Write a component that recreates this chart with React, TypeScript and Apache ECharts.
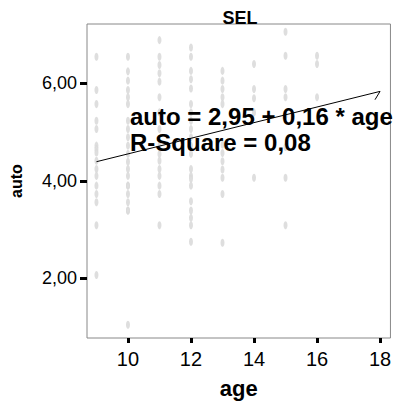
import React, { useEffect, useRef } from "react";
import * as echarts from "echarts";

const titleText = "SEL";
const xName = "age";
const yName = "auto";
const xTicks = [10, 12, 14, 16, 18];
const yTicks = [2, 4, 6];

const age9 = [6.54, 5.86, 5.57, 5.23, 5.06, 4.72, 4.65, 4.58, 4.41, 4.24, 4.1, 3.9, 3.73, 3.56, 3.09, 2.07];
const age10 = [6.54, 6.24, 6.05, 5.86, 5.71, 5.57, 5.23, 5.06, 4.89, 4.72, 4.55, 4.39, 4.24, 4.1, 3.9, 3.9, 3.73, 3.56, 3.39, 3.39, 1.05];
const age11 = [6.88, 6.54, 6.37, 6.2, 6.03, 5.71, 5.4, 5.06, 4.72, 4.55, 4.41, 4.24, 4.1, 3.9, 3.73, 3.09];
const age12 = [6.73, 6.54, 6.25, 6.08, 5.89, 5.57, 5.4, 5.23, 5.06, 4.89, 4.72, 4.55, 4.24, 4.1, 4.04, 3.9, 3.58, 3.39, 3.24, 3.09, 2.75];
const age13 = [6.25, 6.05, 5.88, 5.71, 5.57, 4.74, 4.57, 4.4, 4.23, 4.06, 3.73, 2.73];
const age14 = [6.39, 5.88, 5.69, 5.4, 4.06];
const age15 = [7.05, 6.56, 5.88, 5.71, 5.33, 4.69, 4.06, 3.09];
const age16 = [6.56, 6.39, 5.71];

const groups: [number, number[]][] = [
  [9, age9], [10, age10], [11, age11], [12, age12],
  [13, age13], [14, age14], [15, age15], [16, age16],
];

const fitIntercept = 2.95;
const fitSlope = 0.16;
const fitRange = [9, 18];
const hookPoint = [17.84, 5.66];
const equationLines = ["auto = 2,95 + 0,16 * age", "R-Square = 0,08"];

const FONT = "'Liberation Sans', Arial, sans-serif";

export default function App() {
  const ref = useRef<HTMLDivElement>(null);
  useEffect(() => {
    document.body.style.margin = "0";
    const chart = echarts.init(ref.current!, null, { renderer: "svg" });
    const points: number[][] = [];
    groups.forEach(([a, vals]) => vals.forEach((v) => points.push([a, v])));
    const fitLine = fitRange.map((x) => [x, fitIntercept + fitSlope * x]);
    const endPoint = fitLine[1];
    chart.setOption({
      animation: false,
      backgroundColor: "#fff",
      title: {
        text: titleText,
        left: 235,
        textAlign: "center",
        top: 4,
        textStyle: { fontFamily: FONT, fontSize: 18, fontWeight: "bold", color: "#000" },
      },
      grid: {
        left: 82,
        top: 24,
        width: 311,
        height: 316,
        show: true,
        borderColor: "#888",
        borderWidth: 1,
        backgroundColor: "#fff",
      },
      xAxis: {
        type: "value",
        min: 8.7,
        max: 18.33,
        name: xName,
        nameLocation: "middle",
        nameGap: 39,
        nameTextStyle: { fontFamily: FONT, fontSize: 22, fontWeight: "bold", color: "#000" },
        axisLine: { show: false },
        splitLine: { show: false },
        axisTick: {
          show: true,
          length: 5,
          customValues: xTicks,
          lineStyle: { color: "#000", width: 3 },
        },
        axisLabel: {
          customValues: xTicks,
          margin: 11,
          fontFamily: FONT,
          fontSize: 20,
          color: "#000",
        },
      },
      yAxis: {
        type: "value",
        min: 0.78,
        max: 7.21,
        name: yName,
        nameLocation: "middle",
        nameGap: 63,
        nameRotate: 90,
        nameTextStyle: { fontFamily: FONT, fontSize: 16, fontWeight: "bold", color: "#000" },
        axisLine: { show: false },
        splitLine: { show: false },
        axisTick: {
          show: true,
          length: 7,
          customValues: yTicks,
          lineStyle: { color: "#000", width: 3 },
        },
        axisLabel: {
          customValues: yTicks,
          margin: 10,
          fontFamily: FONT,
          fontSize: 18,
          color: "#000",
          formatter: (v: number) => v.toFixed(2).replace(".", ","),
        },
      },
      series: [
        {
          type: "scatter",
          data: points,
          symbol: "emptyCircle",
          symbolSize: [2, 4],
          itemStyle: { color: "#dadada", borderColor: "#dadada", borderWidth: 0.6, opacity: 0.9 },
          silent: true,
          z: 2,
        },
        {
          type: "line",
          data: fitLine,
          symbol: "none",
          lineStyle: { color: "#000", width: 1 },
          silent: true,
          z: 4,
        },
        {
          type: "line",
          data: [endPoint, hookPoint],
          symbol: "none",
          lineStyle: { color: "#000", width: 1 },
          silent: true,
          z: 4,
        },
      ],
      graphic: [
        {
          type: "text",
          left: 130,
          top: 103,
          z: 3,
          style: {
            text: equationLines.join("\n"),
            fontFamily: FONT,
            fontSize: 24,
            fontWeight: "bold",
            lineHeight: 26,
            fill: "#000",
          },
        },
      ],
    });
    return () => chart.dispose();
  }, []);
  return <div ref={ref} style={{ position: "absolute", left: 0, top: 0, width: 394, height: 404 }} />;
}
